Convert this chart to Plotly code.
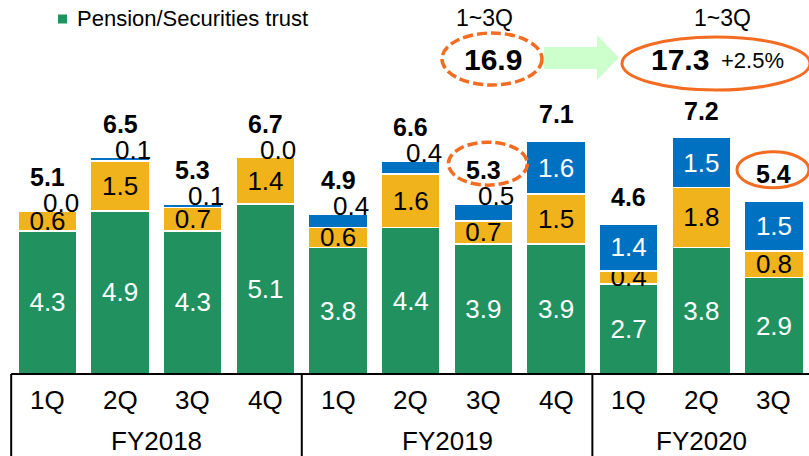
import plotly.graph_objects as go

# ---------------- data ----------------
quarters = ["1Q", "2Q", "3Q", "4Q", "1Q", "2Q", "3Q", "4Q", "1Q", "2Q", "3Q"]
fiscal_years = ["FY2018", "FY2019", "FY2020"]
fy_of_bar = [0, 0, 0, 0, 1, 1, 1, 1, 2, 2, 2]
pension_trust = [4.3, 4.9, 4.3, 5.1, 3.8, 4.4, 3.9, 3.9, 2.7, 3.8, 2.9]
segment_yellow = [0.6, 1.5, 0.7, 1.4, 0.6, 1.6, 0.7, 1.5, 0.4, 1.8, 0.8]
segment_blue = [0.0, 0.1, 0.1, 0.0, 0.4, 0.4, 0.5, 1.6, 1.4, 1.5, 1.5]
totals = [5.1, 6.5, 5.3, 6.7, 4.9, 6.6, 5.3, 7.1, 4.6, 7.2, 5.4]
cum_label = "1~3Q"
cum_fy2019 = 16.9
cum_fy2020 = 17.3
cum_growth = "+2.5%"
legend_name = "Pension/Securities trust"
highlight_dashed = 6   # FY2019 3Q
highlight_solid = 10   # FY2020 3Q

GREEN = "#21925F"
YELLOW = "#F0B31B"
BLUE = "#0070C0"
ORANGE = "#F36C21"
FONT = "Arial, Liberation Sans, sans-serif"
DASH = "10px,4px"

W, H = 809, 456
MB = 82
PH = H - MB
XMIN, XMAX = -0.654, 10.482
YMAX = 11.23

def px_x(px):
    return px / W

def px_y(py):
    return (PH - py) / PH

def dx_paper(v):
    return (v - XMIN) / (XMAX - XMIN)

n = len(quarters)
xs = list(range(n))
stack = [a + b + c for a, b, c in zip(pension_trust, segment_yellow, segment_blue)]

fig = go.Figure()
common = dict(x=xs, width=0.81, textposition="inside", insidetextanchor="middle",
              textangle=0, marker_line=dict(color="white", width=1.5),
              hoverinfo="skip")
fig.add_trace(go.Bar(y=pension_trust, name=legend_name, marker_color=GREEN,
                     text=[f"{v:.1f}" for v in pension_trust],
                     insidetextfont=dict(color="white", size=26, family=FONT),
                     showlegend=False, **common))
fig.add_trace(go.Bar(y=segment_yellow, name="Segment 2", marker_color=YELLOW,
                     text=[f"{v:.1f}" for v in segment_yellow],
                     insidetextfont=dict(color="black", size=26, family=FONT),
                     showlegend=False, **common))
fig.add_trace(go.Bar(y=segment_blue, name="Segment 3", marker_color=BLUE,
                     text=[f"{v:.1f}" if v >= 1.0 else "" for v in segment_blue],
                     insidetextfont=dict(color="white", size=26, family=FONT),
                     showlegend=False, **common))

ann = []
shapes = []
for i in xs:
    small = segment_blue[i] < 1.0
    if small:
        ann.append(dict(x=i, y=stack[i], xref="x", yref="y", text=f"{segment_blue[i]:.1f}",
                        showarrow=False, xshift=13, yshift=8,
                        xanchor="center", yanchor="middle",
                        font=dict(size=26, color="black", family=FONT)))
    ann.append(dict(x=i, y=stack[i], xref="x", yref="y", text=f"<b>{totals[i]:.1f}</b>",
                    showarrow=False, yshift=34 if small else 27,
                    xanchor="center", yanchor="middle",
                    font=dict(size=25, color="black", family=FONT)))
    ann.append(dict(x=i, y=0, xref="x", yref="y", text=quarters[i], showarrow=False,
                    yshift=-26, xanchor="center", yanchor="middle",
                    font=dict(size=26, color="black", family=FONT)))

for k, fy in enumerate(fiscal_years):
    idx = [i for i in xs if fy_of_bar[i] == k]
    ann.append(dict(x=sum(idx) / len(idx), y=0, xref="x", yref="y", text=fy,
                    showarrow=False, yshift=-67, xanchor="center", yanchor="middle",
                    font=dict(size=26, color="black", family=FONT)))

# category box lines
shapes.append(dict(type="line", xref="paper", yref="paper", x0=dx_paper(-0.5), x1=1.0,
                   y0=0, y1=0, line=dict(color="black", width=2)))
bounds = [-0.5] + [i + 0.5 for i in xs[:-1] if fy_of_bar[i] != fy_of_bar[i + 1]]
for b in bounds:
    shapes.append(dict(type="line", xref="paper", yref="paper", x0=dx_paper(b), x1=dx_paper(b),
                       y0=0, y1=-0.3, line=dict(color="black", width=2)))

# highlight ellipses around quarter totals
shapes.append(dict(type="circle", xref="x", yref="y", xsizemode="pixel", ysizemode="pixel",
                   xanchor=highlight_dashed, yanchor=stack[highlight_dashed],
                   x0=-35, x1=44, y0=19, y1=62,
                   line=dict(color=ORANGE, width=3.5, dash=DASH)))
shapes.append(dict(type="circle", xref="x", yref="y", xsizemode="pixel", ysizemode="pixel",
                   xanchor=highlight_solid, yanchor=stack[highlight_solid],
                   x0=-37, x1=35, y0=13, y1=49,
                   line=dict(color=ORANGE, width=3)))

# cumulative comparison header
shapes.append(dict(type="circle", xref="paper", yref="paper",
                   x0=px_x(442), x1=px_x(542), y0=px_y(85), y1=px_y(33),
                   line=dict(color=ORANGE, width=3.5, dash=DASH)))
shapes.append(dict(type="circle", xref="paper", yref="paper",
                   x0=px_x(622), x1=px_x(810), y0=px_y(90), y1=px_y(37),
                   line=dict(color=ORANGE, width=3)))
arrow_pts = [(544, 47), (597, 47), (597, 35), (619, 57.5), (597, 80), (597, 69), (544, 69)]
path = "M " + " L ".join(f"{px_x(a):.5f},{px_y(b):.5f}" for a, b in arrow_pts) + " Z"
shapes.append(dict(type="path", xref="paper", yref="paper", path=path,
                   fillcolor="#CCFFCC", line=dict(width=0)))

def header_text(px, py, text, size):
    return dict(x=px_x(px), y=px_y(py), xref="paper", yref="paper", text=text,
                showarrow=False, xanchor="center", yanchor="middle",
                font=dict(size=size, color="black", family=FONT))

ann += [
    header_text(484, 18.5, cum_label, 23),
    header_text(722, 18.5, cum_label, 23),
    header_text(492.5, 60, f"<b>{cum_fy2019:.1f}</b>", 30),
    header_text(679.5, 60, f"<b>{cum_fy2020:.1f}</b>", 30),
    header_text(752.5, 61, cum_growth, 22),
]

# legend (manual)
shapes.append(dict(type="rect", xref="paper", yref="paper", x0=px_x(58), x1=px_x(67),
                   y0=px_y(23.5), y1=px_y(14.5), fillcolor=GREEN, line=dict(width=0)))
ann.append(dict(x=px_x(75), y=px_y(19), xref="paper", yref="paper", xanchor="left",
                yanchor="middle", text=legend_name, showarrow=False,
                font=dict(size=22, color="black", family=FONT)))

fig.update_layout(
    width=W, height=H, barmode="stack", bargap=0.19,
    margin=dict(l=0, r=0, t=0, b=MB),
    plot_bgcolor="white", paper_bgcolor="white",
    xaxis=dict(range=[XMIN, XMAX], visible=False, fixedrange=True),
    yaxis=dict(range=[0, YMAX], visible=False, fixedrange=True),
    uniformtext=dict(minsize=26, mode="show"),
    annotations=ann, shapes=shapes, showlegend=False,
    font=dict(family=FONT),
)

fig.write_html("out.html", config={"displayModeBar": False},
               post_script="document.body.style.margin='0';document.body.style.overflow='hidden';")
